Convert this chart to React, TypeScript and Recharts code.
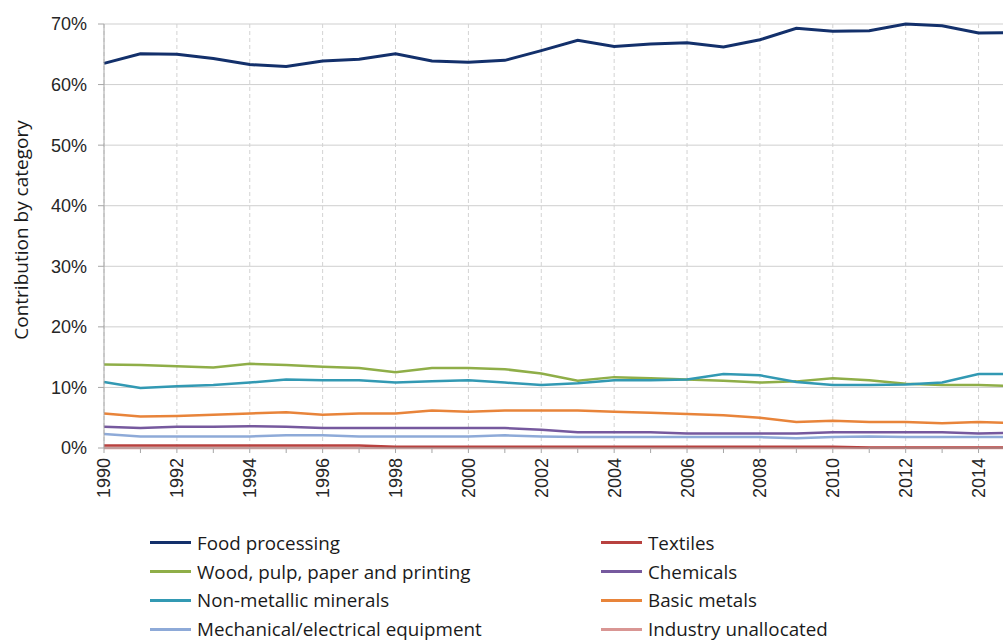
import { LineChart, Line, XAxis, YAxis, CartesianGrid, Legend } from 'recharts';

const years = [
  1990, 1991, 1992, 1993, 1994, 1995, 1996, 1997, 1998, 1999, 2000, 2001, 2002,
  2003, 2004, 2005, 2006, 2007, 2008, 2009, 2010, 2011, 2012, 2013, 2014, 2015,
];
const yearLabels = [1990, 1992, 1994, 1996, 1998, 2000, 2002, 2004, 2006, 2008, 2010, 2012, 2014];
const percentTicks = [0, 10, 20, 30, 40, 50, 60, 70];

const foodProcessing = [
  63.5, 65.1, 65.0, 64.3, 63.3, 63.0, 63.9, 64.2, 65.1, 63.9, 63.7, 64.0, 65.6,
  67.3, 66.3, 66.7, 66.9, 66.2, 67.4, 69.3, 68.8, 68.9, 70.0, 69.7, 68.5, 68.6,
];
const textiles = [
  0.4, 0.4, 0.4, 0.4, 0.4, 0.4, 0.4, 0.4, 0.2, 0.2, 0.2, 0.2, 0.2,
  0.2, 0.2, 0.2, 0.2, 0.2, 0.2, 0.2, 0.2, 0.1, 0.1, 0.1, 0.1, 0.1,
];
const woodPulpPaper = [
  13.8, 13.7, 13.5, 13.3, 13.9, 13.7, 13.4, 13.2, 12.5, 13.2, 13.2, 13.0, 12.3,
  11.1, 11.7, 11.5, 11.3, 11.1, 10.8, 11.0, 11.5, 11.2, 10.6, 10.4, 10.4, 10.2,
];
const chemicals = [
  3.5, 3.3, 3.5, 3.5, 3.6, 3.5, 3.3, 3.3, 3.3, 3.3, 3.3, 3.3, 3.0,
  2.6, 2.6, 2.6, 2.4, 2.4, 2.4, 2.4, 2.6, 2.6, 2.6, 2.6, 2.4, 2.5,
];
const nonMetallicMinerals = [
  10.9, 9.9, 10.2, 10.4, 10.8, 11.3, 11.2, 11.2, 10.8, 11.0, 11.2, 10.8, 10.4,
  10.7, 11.2, 11.2, 11.3, 12.2, 12.0, 10.9, 10.4, 10.4, 10.5, 10.8, 12.2, 12.2,
];
const basicMetals = [
  5.7, 5.2, 5.3, 5.5, 5.7, 5.9, 5.5, 5.7, 5.7, 6.2, 6.0, 6.2, 6.2,
  6.2, 6.0, 5.8, 5.6, 5.4, 5.0, 4.3, 4.5, 4.3, 4.3, 4.1, 4.3, 4.1,
];
const mechanicalElectrical = [
  2.3, 1.9, 1.9, 1.9, 1.9, 2.1, 2.1, 1.9, 1.9, 1.9, 1.9, 2.1, 1.9,
  1.8, 1.8, 1.8, 1.8, 1.8, 1.8, 1.6, 1.8, 1.9, 1.8, 1.8, 1.8, 1.8,
];
const industryUnallocated = [
  0, 0, 0, 0, 0, 0, 0, 0, 0, 0, 0, 0, 0,
  0, 0, 0, 0, 0, 0, 0, 0, 0, 0, 0, 0, 0,
];

// legend order (row by row, two columns)
const seriesList = [
  { key: 'food', name: 'Food processing', color: '#13306b', width: 3, values: foodProcessing },
  { key: 'textiles', name: 'Textiles', color: '#b8413f', width: 2.5, values: textiles },
  { key: 'wood', name: 'Wood, pulp, paper and printing', color: '#8fae48', width: 2.5, values: woodPulpPaper },
  { key: 'chemicals', name: 'Chemicals', color: '#76599e', width: 2.5, values: chemicals },
  { key: 'minerals', name: 'Non-metallic minerals', color: '#3299b3', width: 2.5, values: nonMetallicMinerals },
  { key: 'metals', name: 'Basic metals', color: '#e8843a', width: 2.5, values: basicMetals },
  { key: 'mechanical', name: 'Mechanical/electrical equipment', color: '#8eaad8', width: 2.5, values: mechanicalElectrical },
  { key: 'unallocated', name: 'Industry unallocated', color: '#d99694', width: 2.5, values: industryUnallocated },
];

// draw the zero series first so the others sit on top of it
const drawOrder = ['unallocated', 'food', 'textiles', 'wood', 'chemicals', 'minerals', 'metals', 'mechanical'];

const chartData = years.map((year, i) => {
  const row: Record<string, number> = { year };
  seriesList.forEach((s) => {
    row[s.key] = s.values[i];
  });
  return row;
});

const YearTick = ({ x, y, payload }: any) => {
  if (!yearLabels.includes(payload.value)) return <g />;
  return (
    <text
      x={x}
      y={y}
      dy="0.36em"
      textAnchor="end"
      transform={`rotate(-90, ${x}, ${y})`}
      fontSize={18}
      fill="#262626"
      fontFamily="'Liberation Sans', Arial, sans-serif"
    >
      {payload.value}
    </text>
  );
};

const AxisTitle = ({ viewBox }: any) => {
  const cx = 21;
  const cy = viewBox.y + viewBox.height / 2 - 6;
  return (
    <text
      x={cx}
      y={cy}
      dy="0.35em"
      textAnchor="middle"
      transform={`rotate(-90, ${cx}, ${cy})`}
      fontSize={19}
      fill="#1a1a1a"
      fontFamily="'Open Sans', sans-serif"
    >
      Contribution by category
    </text>
  );
};

const LegendBlock = () => (
  <div
    style={{
      display: 'grid',
      gridTemplateColumns: '451px 451px',
      paddingLeft: 150,
      fontFamily: "'Open Sans', sans-serif",
      fontSize: 18.8,
      color: '#1a1a1a',
    }}
  >
    {seriesList.map((s) => (
      <div key={s.key} style={{ display: 'flex', alignItems: 'center', height: 28.7 }}>
        <span style={{ display: 'inline-block', width: 41, height: 3, background: s.color, marginRight: 6 }} />
        <span style={{ whiteSpace: 'nowrap' }}>{s.name}</span>
      </div>
    ))}
  </div>
);

export default function App() {
  return (
    <div
      style={{
        position: 'absolute',
        left: 0,
        top: 0,
        width: 1003,
        height: 642,
        overflow: 'hidden',
        background: '#fff',
        fontFamily: "'Liberation Sans', Arial, sans-serif",
      }}
    >
      <LineChart width={1040} height={642} data={chartData} margin={{ top: 24, right: 25, left: 0, bottom: 134 }}>
        <CartesianGrid xAxisId="grid" stroke="#cfcfcf" strokeDasharray="" vertical={false} />
        <CartesianGrid xAxisId="grid" stroke="#d3d3d3" strokeDasharray="4 3" horizontal={false} />
        <XAxis xAxisId="grid" type="number" dataKey="year" domain={[1990, 2015]} ticks={yearLabels} hide />
        <XAxis
          type="number"
          dataKey="year"
          domain={[1990, 2015]}
          ticks={years}
          interval={0}
          height={60}
          stroke="#a6a6a6"
          tickSize={5}
          tickMargin={5}
          tick={<YearTick />}
        />
        <YAxis
          domain={[0, 70]}
          ticks={percentTicks}
          width={104}
          stroke="#a6a6a6"
          tickSize={6}
          tickMargin={11}
          tick={{ fontSize: 18, fill: '#262626' }}
          tickFormatter={(v: number) => `${v}%`}
          label={{ content: <AxisTitle /> }}
        />
        {drawOrder.map((key) => {
          const s = seriesList.find((item) => item.key === key)!;
          return (
            <Line
              key={s.key}
              type="linear"
              dataKey={s.key}
              name={s.name}
              stroke={s.color}
              strokeWidth={s.width}
              dot={false}
              activeDot={false}
              isAnimationActive={false}
            />
          );
        })}
        <Legend
          layout="horizontal"
          align="center"
          verticalAlign="middle"
          wrapperStyle={{ left: 0, top: 528.6, width: 1003 }}
          content={<LegendBlock />}
        />
      </LineChart>
    </div>
  );
}
